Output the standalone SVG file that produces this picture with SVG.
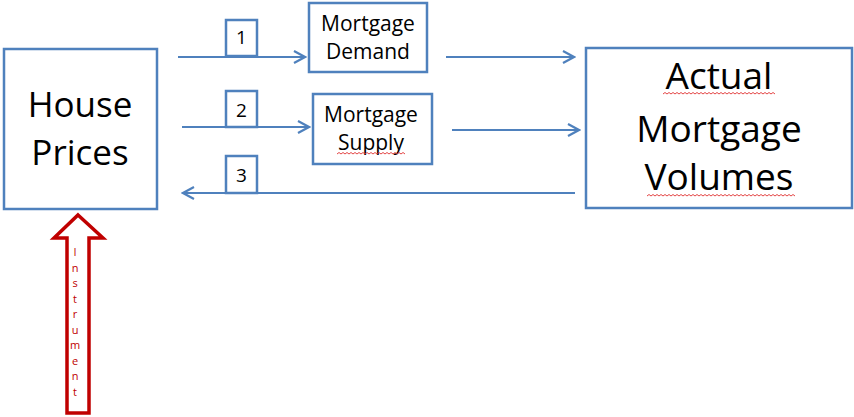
<svg xmlns="http://www.w3.org/2000/svg" width="854" height="417" viewBox="0 0 854 417">
<defs>
<style>
.box{fill:#fff;stroke:#4f81bd;stroke-width:2.5}
.con{fill:none;stroke:#4f81bd;stroke-width:2.2}
.t{font-family:"Open Sans","Liberation Sans",sans-serif;fill:#000;text-anchor:middle}
.sq{fill:none;stroke:#e03030;stroke-width:0.9}
.ins{font-family:"Open Sans","Liberation Sans",sans-serif;font-size:11px;fill:#c00000;text-anchor:middle}
</style>
<marker id="ah" viewBox="0 0 14 14" refX="12" refY="7" markerWidth="14" markerHeight="14" markerUnits="userSpaceOnUse" orient="auto">
<path d="M1,1 L12,7 L1,13" fill="none" stroke="#4f81bd" stroke-width="2.2"/>
</marker>
</defs>
<rect width="854" height="417" fill="#fff"/>
<g id="connectors">
<line class="con" x1="178" y1="57" x2="305" y2="57" marker-end="url(#ah)"/>
<line class="con" x1="182" y1="127" x2="309" y2="127" marker-end="url(#ah)"/>
<line class="con" x1="446" y1="57" x2="574" y2="57" marker-end="url(#ah)"/>
<line class="con" x1="452" y1="130" x2="579" y2="130" marker-end="url(#ah)"/>
<line class="con" x1="575" y1="193" x2="183" y2="193" marker-end="url(#ah)"/>
</g>
<g id="label1"><rect class="box" x="226" y="20" width="31" height="36" stroke-width="2.2"/><text class="t" x="241.5" y="44" font-size="19">1</text></g>
<g id="label2"><rect class="box" x="226" y="91" width="31" height="36" stroke-width="2.2"/><text class="t" x="241.5" y="117" font-size="19">2</text></g>
<g id="label3"><rect class="box" x="226" y="156" width="31" height="37" stroke-width="2.2"/><text class="t" x="241.5" y="182" font-size="19">3</text></g>
<g id="house-prices">
<rect class="box" x="4" y="49" width="153" height="160"/>
<text class="t" x="80" y="117" font-size="35">House</text>
<text class="t" x="80" y="165" font-size="35">Prices</text>
</g>
<g id="mortgage-demand">
<rect class="box" x="309" y="3" width="118" height="69"/>
<text class="t" x="368" y="31" font-size="21">Mortgage</text>
<text class="t" x="368" y="59" font-size="21">Demand</text>
</g>
<g id="mortgage-supply">
<rect class="box" x="313" y="94" width="119" height="70"/>
<text class="t" x="371" y="122" font-size="21">Mortgage</text>
<text class="t" x="371" y="150" font-size="21">Supply</text>
<path class="sq" d="M337,154 l2,-1.5 l2,1.5 l2,-1.5 l2,1.5 l2,-1.5 l2,1.5 l2,-1.5 l2,1.5 l2,-1.5 l2,1.5 l2,-1.5 l2,1.5 l2,-1.5 l2,1.5 l2,-1.5 l2,1.5 l2,-1.5 l2,1.5 l2,-1.5 l2,1.5 l2,-1.5 l2,1.5 l2,-1.5 l2,1.5 l2,-1.5 l2,1.5 l2,-1.5 l2,1.5 l2,-1.5 l2,1.5 l2,-1.5 l2,1.5 l2,-1.5 l2,1.5"/>
</g>
<g id="actual-mortgage-volumes">
<rect class="box" x="586" y="48" width="266" height="160"/>
<text class="t" x="719" y="89" font-size="37">Actual</text>
<text class="t" x="719" y="142" font-size="37">Mortgage</text>
<text class="t" x="719" y="190" font-size="37">Volumes</text>
<path class="sq" d="M663,94 l2,-1.5 l2,1.5 l2,-1.5 l2,1.5 l2,-1.5 l2,1.5 l2,-1.5 l2,1.5 l2,-1.5 l2,1.5 l2,-1.5 l2,1.5 l2,-1.5 l2,1.5 l2,-1.5 l2,1.5 l2,-1.5 l2,1.5 l2,-1.5 l2,1.5 l2,-1.5 l2,1.5 l2,-1.5 l2,1.5 l2,-1.5 l2,1.5 l2,-1.5 l2,1.5 l2,-1.5 l2,1.5 l2,-1.5 l2,1.5 l2,-1.5 l2,1.5 l2,-1.5 l2,1.5 l2,-1.5 l2,1.5 l2,-1.5 l2,1.5 l2,-1.5 l2,1.5 l2,-1.5 l2,1.5 l2,-1.5 l2,1.5 l2,-1.5 l2,1.5 l2,-1.5 l2,1.5 l2,-1.5 l2,1.5 l2,-1.5 l2,1.5 l2,-1.5 l2,1.5"/>
<path class="sq" d="M647,196 l2,-1.5 l2,1.5 l2,-1.5 l2,1.5 l2,-1.5 l2,1.5 l2,-1.5 l2,1.5 l2,-1.5 l2,1.5 l2,-1.5 l2,1.5 l2,-1.5 l2,1.5 l2,-1.5 l2,1.5 l2,-1.5 l2,1.5 l2,-1.5 l2,1.5 l2,-1.5 l2,1.5 l2,-1.5 l2,1.5 l2,-1.5 l2,1.5 l2,-1.5 l2,1.5 l2,-1.5 l2,1.5 l2,-1.5 l2,1.5 l2,-1.5 l2,1.5 l2,-1.5 l2,1.5 l2,-1.5 l2,1.5 l2,-1.5 l2,1.5 l2,-1.5 l2,1.5 l2,-1.5 l2,1.5 l2,-1.5 l2,1.5 l2,-1.5 l2,1.5 l2,-1.5 l2,1.5 l2,-1.5 l2,1.5 l2,-1.5 l2,1.5 l2,-1.5 l2,1.5 l2,-1.5 l2,1.5 l2,-1.5 l2,1.5 l2,-1.5 l2,1.5 l2,-1.5 l2,1.5 l2,-1.5 l2,1.5 l2,-1.5 l2,1.5 l2,-1.5 l2,1.5 l2,-1.5 l2,1.5 l2,-1.5 l2,1.5"/>
</g>
<g id="instrument">
<path d="M78,215 L103,238 L89,238 L89,413 L67,413 L67,238 L54,238 Z" fill="#fff" stroke="#c00000" stroke-width="3.5" stroke-linejoin="miter"/>
<text class="ins" x="75" y="256">I</text>
<text class="ins" x="75" y="271.5">n</text>
<text class="ins" x="75" y="287">s</text>
<text class="ins" x="75" y="302.5">t</text>
<text class="ins" x="75" y="318">r</text>
<text class="ins" x="75" y="333.5">u</text>
<text class="ins" x="75" y="349">m</text>
<text class="ins" x="75" y="364.5">e</text>
<text class="ins" x="75" y="380">n</text>
<text class="ins" x="75" y="396">t</text>
</g>
</svg>
